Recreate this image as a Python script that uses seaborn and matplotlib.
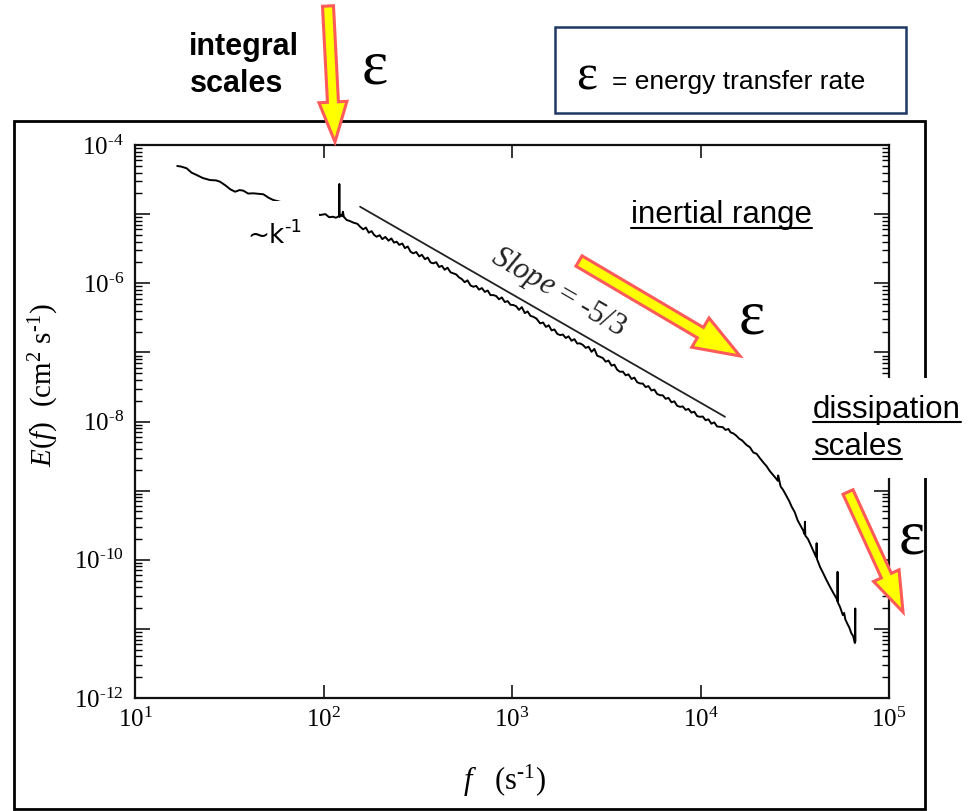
import numpy as np
import pandas as pd
import matplotlib
matplotlib.use("Agg")
import matplotlib.pyplot as plt
import matplotlib.transforms as mtransforms
import seaborn as sns
from matplotlib.patches import Rectangle, FancyArrow
from matplotlib.lines import Line2D
from matplotlib.ticker import FixedLocator, NullLocator, FuncFormatter

# ---------------- data (log10 values) ----------------
# energy-containing range (incl. spike near 120 Hz)
lf_low = [1.224, 1.245, 1.274, 1.300, 1.327, 1.360, 1.398, 1.430, 1.451, 1.480,
          1.505, 1.531, 1.555, 1.575, 1.600, 1.628, 1.655, 1.681, 1.710, 1.734,
          1.769, 1.820, 1.875, 1.930, 1.981, 2.010, 2.030, 2.050, 2.066, 2.082,
          2.084, 2.086, 2.092, 2.098, 2.103, 2.108, 2.123, 2.140, 2.160, 2.180]
lE_low = [-4.304, -4.312, -4.337, -4.400, -4.434, -4.478, -4.507, -4.512, -4.531, -4.585,
          -4.640, -4.676, -4.652, -4.661, -4.702, -4.699, -4.706, -4.713, -4.765, -4.796,
          -4.821, -4.862, -4.897, -4.958, -5.013, -5.000, -5.045, -5.038, -5.052, -5.030,
          -4.564, -5.040, -5.010, -5.030, -4.965, -5.040, -5.085, -5.100, -5.125, -5.140]

# inertial range
lf_inert = [2.194, 2.210, 2.225, 2.240, 2.255, 2.268, 2.282, 2.298, 2.312, 2.328,
            2.345, 2.360, 2.374, 2.388, 2.402, 2.418, 2.432, 2.447, 2.462, 2.476,
            2.492, 2.508, 2.522, 2.538, 2.553, 2.568, 2.583, 2.598, 2.613, 2.628,
            2.643, 2.658, 2.674, 2.689, 2.704, 2.719, 2.734, 2.749, 2.764, 2.780,
            2.795, 2.810, 2.825, 2.840, 2.856, 2.871, 2.886, 2.901, 2.916, 2.931,
            2.946, 2.962, 2.977, 2.992, 3.007, 3.022, 3.037, 3.052, 3.068, 3.083,
            3.098, 3.113, 3.130, 3.149, 3.165, 3.180, 3.195, 3.210, 3.225, 3.240,
            3.255, 3.270, 3.285, 3.300, 3.316, 3.331, 3.346, 3.361, 3.376, 3.391,
            3.406, 3.422, 3.437, 3.452, 3.467, 3.482, 3.497, 3.512, 3.528, 3.543,
            3.558, 3.573, 3.588, 3.603, 3.618, 3.634, 3.649, 3.664, 3.679, 3.694,
            3.709, 3.724, 3.740, 3.755, 3.770, 3.785, 3.800, 3.815, 3.830, 3.846,
            3.861, 3.876, 3.891, 3.906, 3.921, 3.936, 3.952, 3.967, 3.982, 3.997,
            4.012, 4.027, 4.042, 4.058, 4.073, 4.088, 4.103, 4.118, 4.133, 4.148,
            4.160]
lE_inert = [-5.182, -5.220, -5.195, -5.268, -5.246, -5.300, -5.327, -5.305, -5.362, -5.330,
            -5.384, -5.352, -5.412, -5.399, -5.445, -5.425, -5.492, -5.468, -5.545, -5.567,
            -5.548, -5.612, -5.588, -5.652, -5.628, -5.700, -5.712, -5.695, -5.765, -5.748,
            -5.805, -5.775, -5.842, -5.857, -5.872, -5.915, -5.940, -5.985, -5.958, -6.032,
            -6.051, -6.038, -6.092, -6.070, -6.125, -6.105, -6.172, -6.171, -6.185, -6.232,
            -6.205, -6.272, -6.258, -6.312, -6.315, -6.332, -6.385, -6.345, -6.432, -6.408,
            -6.472, -6.485, -6.512, -6.580, -6.568, -6.632, -6.608, -6.682, -6.668, -6.732,
            -6.750, -6.742, -6.792, -6.768, -6.832, -6.808, -6.872, -6.870, -6.892, -6.935,
            -6.918, -6.992, -6.950, -7.048, -7.064, -7.082, -7.135, -7.118, -7.192, -7.178,
            -7.252, -7.281, -7.278, -7.332, -7.318, -7.385, -7.365, -7.432, -7.449, -7.452,
            -7.502, -7.488, -7.552, -7.538, -7.602, -7.619, -7.622, -7.672, -7.658, -7.722,
            -7.708, -7.772, -7.788, -7.782, -7.832, -7.818, -7.872, -7.858, -7.922, -7.932,
            -7.928, -7.982, -7.968, -8.032, -8.012, -8.072, -8.077, -8.082, -8.122, -8.108,
            -8.158]

# dissipation range (with spikes)
lf_diss = [4.174, 4.190, 4.205, 4.220, 4.232, 4.245, 4.262, 4.280, 4.298, 4.316,
           4.335, 4.350, 4.368, 4.386, 4.400, 4.410, 4.412, 4.425, 4.439, 4.455,
           4.470, 4.484, 4.500, 4.515, 4.529, 4.545, 4.552, 4.554, 4.556, 4.570,
           4.581, 4.600, 4.614, 4.616, 4.618, 4.634, 4.650, 4.668, 4.687, 4.705,
           4.722, 4.726, 4.727, 4.729, 4.740, 4.755, 4.762, 4.768, 4.778, 4.790,
           4.800, 4.810, 4.816, 4.819, 4.821, 4.822]
lE_diss = [-8.172, -8.205, -8.248, -8.272, -8.305, -8.342, -8.372, -8.448, -8.468, -8.534,
           -8.598, -8.645, -8.718, -8.776, -8.822, -8.858, -8.780, -8.940, -8.993, -9.072,
           -9.148, -9.234, -9.312, -9.428, -9.499, -9.578, -9.630, -9.450, -9.650, -9.700,
           -9.764, -9.882, -9.965, -9.760, -9.990, -10.103, -10.190, -10.292, -10.392, -10.482,
           -10.562, -10.600, -10.175, -10.620, -10.682, -10.800, -10.770, -10.860, -10.920, -10.985,
           -11.062, -11.105, -11.175, -11.205, -10.705, -11.180]

# -5/3 reference line
slope_lf = [2.194, 4.130]
slope_lE = [-4.893, -7.932]

x_tick_exps = [1, 2, 3, 4, 5]
y_tick_exps = [-12, -11, -10, -9, -8, -7, -6, -5, -4]
y_label_exps = [-12, -10, -8, -6, -4]
minor_subs = [2, 3, 4, 5, 6, 7, 8, 9]

# ---------------- style ----------------
sns.set_style("ticks")
plt.rcParams['font.family'] = ['Liberation Serif', 'DejaVu Serif']
plt.rcParams['mathtext.fontset'] = 'custom'
plt.rcParams['mathtext.rm'] = 'Liberation Serif'
plt.rcParams['mathtext.it'] = 'Liberation Serif:italic'
plt.rcParams['mathtext.bf'] = 'Liberation Serif:bold'
for k in ['text.color', 'axes.labelcolor', 'xtick.color', 'ytick.color', 'axes.edgecolor']:
    plt.rcParams[k] = 'black'

W, H = 974, 811
fig = plt.figure(figsize=(W / 100, H / 100), dpi=100)
fig.patch.set_facecolor('white')
ax = fig.add_axes([135 / W, 1 - 698 / H, 754 / W, 553 / H])
ax.set_xscale('log')
ax.set_yscale('log')

df = pd.DataFrame({
    "f": 10 ** np.array(lf_low + lf_inert + lf_diss),
    "E": 10 ** np.array(lE_low + lE_inert + lE_diss),
})
sns.lineplot(data=df, x="f", y="E", ax=ax, color="black", lw=1.4,
             sort=False, estimator=None)
sns.lineplot(x=10 ** np.array(slope_lf), y=10 ** np.array(slope_lE), ax=ax,
             color="#222222", lw=1.3, sort=False, estimator=None)

ax.set_xlim(10 ** x_tick_exps[0], 10 ** x_tick_exps[-1])
ax.set_ylim(10.0 ** y_tick_exps[0], 10.0 ** y_tick_exps[-1])

for s in ax.spines.values():
    s.set_linewidth(1.6)
    s.set_color('#111111')

ax.set_xlabel(r"$\mathit{f}$   (s$^{\text{-1}}$)", fontsize=22)
ax.xaxis.set_label_coords(0.49, -0.118)
ax.set_ylabel(r"$\mathit{E(f)}$  (cm$^{2}$ s$^{\text{-1}}$)", fontsize=21)
ax.yaxis.set_label_coords(-0.098, 0.566)

# ---------------- ticks ----------------
ax.xaxis.set_major_locator(FixedLocator([10.0 ** e for e in x_tick_exps]))
ax.xaxis.set_minor_locator(NullLocator())
ax.xaxis.set_major_formatter(FuncFormatter(
    lambda v, p: r"$10^{\text{%d}}$" % int(round(np.log10(v)))))
ax.yaxis.set_major_locator(FixedLocator([10.0 ** e for e in y_tick_exps]))
ax.yaxis.set_minor_locator(NullLocator())


def yfmt(v, p):
    e = int(round(np.log10(v)))
    return r"$10^{\text{%d}}$" % e if e in y_label_exps else ""


ax.yaxis.set_major_formatter(FuncFormatter(yfmt))

ax.tick_params(axis='both', which='major', direction='in', width=1.1,
               top=True, right=True, labelsize=18, colors='black')
ax.tick_params(axis='x', which='major', pad=7, length=9.5)
ax.tick_params(axis='y', which='major', pad=8, length=11)

# subdivision ticks (2..9 within each decade) on left and right spines
sub_vals = [m * 10.0 ** e for e in y_tick_exps[:-1] for m in minor_subs]
ytrans = mtransforms.blended_transform_factory(ax.transAxes, ax.transData)
for v in sub_vals:
    ax.plot([0.0, 0.009], [v, v], transform=ytrans, color='black', lw=1.0,
            solid_capstyle='butt', clip_on=False, zorder=5)
    ax.plot([0.991, 1.0], [v, v], transform=ytrans, color='black', lw=1.0,
            solid_capstyle='butt', clip_on=False, zorder=5)

# ---------------- overlay annotations (pixel coordinates) ----------------
ov = fig.add_axes([0, 0, 1, 1], zorder=10)
ov.set_xlim(0, W)
ov.set_ylim(H, 0)
ov.axis('off')
ov.patch.set_alpha(0)

# outer frame
ov.add_patch(Rectangle((14, 121), 911, 688, fill=False, ec='black', lw=2.0, zorder=1))
# legend box
ov.add_patch(Rectangle((555, 27), 351, 86, fill=False, ec='#1F3864', lw=1.8, zorder=1))

# white masks
ov.add_patch(Rectangle((233, 201), 86, 51, fc='white', ec='none', zorder=2))
ov.add_patch(Rectangle((800, 378), 172, 100, fc='white', ec='none', zorder=2))

SANS = 'Liberation Sans'
SERIF = 'Liberation Serif'

ov.text(189, 55, "integral", family=SANS, weight='bold', fontsize=22,
        ha='left', va='baseline', zorder=3)
ov.text(190, 92, "scales", family=SANS, weight='bold', fontsize=22,
        ha='left', va='baseline', zorder=3)

ov.text(362, 83, "ε", family=SERIF, fontsize=45, ha='left', va='baseline', zorder=3)
ov.text(739, 333, "ε", family=SERIF, fontsize=45, ha='left', va='baseline', zorder=3)
ov.text(899, 553, "ε", family=SERIF, fontsize=45, ha='left', va='baseline', zorder=3)

ov.text(576, 89, "ε", family=SERIF, fontsize=36, ha='left', va='baseline', zorder=3)
ov.text(612, 89, "= energy transfer rate", family=SANS, fontsize=19,
        ha='left', va='baseline', zorder=3)

ov.text(247, 243, "~k", family='DejaVu Sans', fontsize=19,
        ha='left', va='baseline', zorder=3)
ov.text(284, 232, "-1", family='DejaVu Sans', fontsize=13,
        ha='left', va='baseline', zorder=3)

ov.text(558, 292, r"$\mathit{Slope}$ = -5/3", family=SERIF, fontsize=22,
        rotation=-30, rotation_mode='anchor', ha='center', va='center',
        color='#222222', zorder=3)

under = []
under.append((ov.text(631, 223, "inertial range", family=SANS, fontsize=22.5,
                      ha='left', va='baseline', zorder=3), 223 + 5))
under.append((ov.text(813, 418, "dissipation", family=SANS, fontsize=22.5,
                      ha='left', va='baseline', zorder=3), 418 + 4))
under.append((ov.text(813, 455, "scales", family=SANS, fontsize=22.5,
                      ha='left', va='baseline', zorder=3), 455 + 4))

fig.canvas.draw()
renderer = fig.canvas.get_renderer()
for t, yu in under:
    bb = t.get_window_extent(renderer)
    ov.add_line(Line2D([bb.x0, bb.x1], [yu, yu], color='black', lw=1.5, zorder=3))


def big_arrow(x0, y0, x1, y1, w, hw, hl):
    ov.add_patch(FancyArrow(x0, y0, x1 - x0, y1 - y0, width=w, head_width=hw,
                            head_length=hl, length_includes_head=True,
                            fc='#FFFF00', ec='#FF5A5A', lw=2.2, zorder=4))


big_arrow(328, 6, 335, 142, 11, 28, 40)
big_arrow(579, 261, 740, 356, 12, 34, 46)
big_arrow(848, 492, 903, 612, 11, 28, 40)

fig.savefig("out.png", dpi=100, facecolor='white')
